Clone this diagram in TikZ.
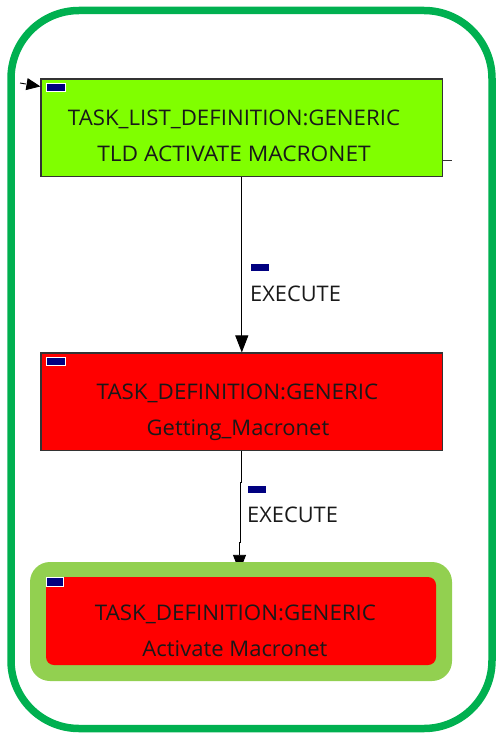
\documentclass[tikz,border=0pt]{standalone}
\usepackage{fontspec}
\setmainfont{Open Sans}
\usetikzlibrary{arrows.meta,calc,backgrounds}
\definecolor{frameGreen}{HTML}{00B050}
\definecolor{limeFill}{HTML}{80FF00}
\definecolor{taskRed}{HTML}{FF0000}
\definecolor{haloGreen}{HTML}{92D050}
\definecolor{markNavy}{HTML}{000080}
\definecolor{edgeGray}{HTML}{333333}
% set a line of text at a given width, keeping its natural height
\newcommand{\fitw}[2]{\resizebox{#1}{\height}{#2}}

\begin{document}
\begin{tikzpicture}[x=1pt,y=-1pt,
  box/.style={draw=edgeGray,line width=1.2pt,minimum width=401.5pt,minimum height=97.5pt,inner sep=0pt},
  txt/.style={anchor=base,inner sep=0pt,font=\fontsize{21.5}{24}\selectfont,text=black!90},
  lbl/.style={anchor=base west,inner sep=0pt,font=\fontsize{21.5}{24}\selectfont,text=black!90},
  marker/.style={fill=markNavy,draw=white,line width=0.6pt,minimum width=19pt,minimum height=8pt,inner sep=0pt},
  flow/.style={draw=black,line width=0.9pt,-{Triangle[length=17pt,width=13pt]}},
]
\useasboundingbox (0,0) rectangle (497,733);

% outer frame
\node[draw=frameGreen,line width=7.5pt,rounded corners=68pt,
      minimum width=481pt,minimum height=718pt,inner sep=0pt] (frame) at (251.5,369.5) {};

% task list definition
\node[box,fill=limeFill] (tld) at (241.8,127.8) {};
\node[marker] (tldmark) at (55.5,87.5) {};
\node[txt] (tldA) at (234,125) {\fitw{332pt}{TASK\_LIST\_DEFINITION:GENERIC}};
\node[txt] (tldB) at (234,161) {\fitw{273.5pt}{TLD ACTIVATE MACRONET}};

% getting macronet
\node[box,fill=taskRed] (drv) at (241.8,401.8) {};
\node[marker] (drvmark) at (55.3,361) {};
\node[txt] (drvA) at (237.5,399) {\fitw{281.5pt}{TASK\_DEFINITION:GENERIC}};
\node[txt] (drvB) at (238,435) {\fitw{182.5pt}{Getting\_Macronet}};

% activate macronet (highlighted)
\node[fill=haloGreen,rounded corners=20pt,minimum width=422pt,minimum height=119pt,inner sep=0pt] (halo) at (241,621.5) {};
\node[fill=taskRed,rounded corners=8pt,minimum width=390pt,minimum height=88pt,inner sep=0pt] (act) at (241,621) {};
\node[marker,minimum width=17pt,minimum height=9pt] (actmark) at (54.7,582.2) {};
\node[txt] (actA) at (235.5,620) {\fitw{281pt}{TASK\_DEFINITION:GENERIC}};
\node[txt] (actB) at (235,656.7) {\fitw{185pt}{Activate Macronet}};

% edge labels
\node[marker] (e1mark) at (259.3,267.7) {};
\node[lbl] (e1) at (250,301.7) {\fitw{90.7pt}{EXECUTE}};
\node[marker] (e2mark) at (257,489.2) {};
\node[lbl] (e2) at (247,522.3) {\fitw{90.7pt}{EXECUTE}};

% connectors
\begin{scope}[on background layer]
  \draw[flow] (tld.south) -- (drv.north);
  \draw[flow] (drv.south) -- ++(0,31) -- ++(-1.3,0) -- ++(0,60) -- ++(-1,0)
        -- ($(halo.north)+(-1.5,10)$);
\end{scope}

% entry marker and stub
\coordinate (entry) at (20,83);
\draw[line width=0.9pt,dash pattern=on 6pt off 10pt,
      -{Triangle[length=14pt,width=12pt]}] (entry) -- ($(tld.north west)+(0,8)$);
\coordinate (tick) at (452,160.5);
\draw[line width=0.8pt,edgeGray] (tick -| tld.east) -- (tick);
\end{tikzpicture}
\end{document}
